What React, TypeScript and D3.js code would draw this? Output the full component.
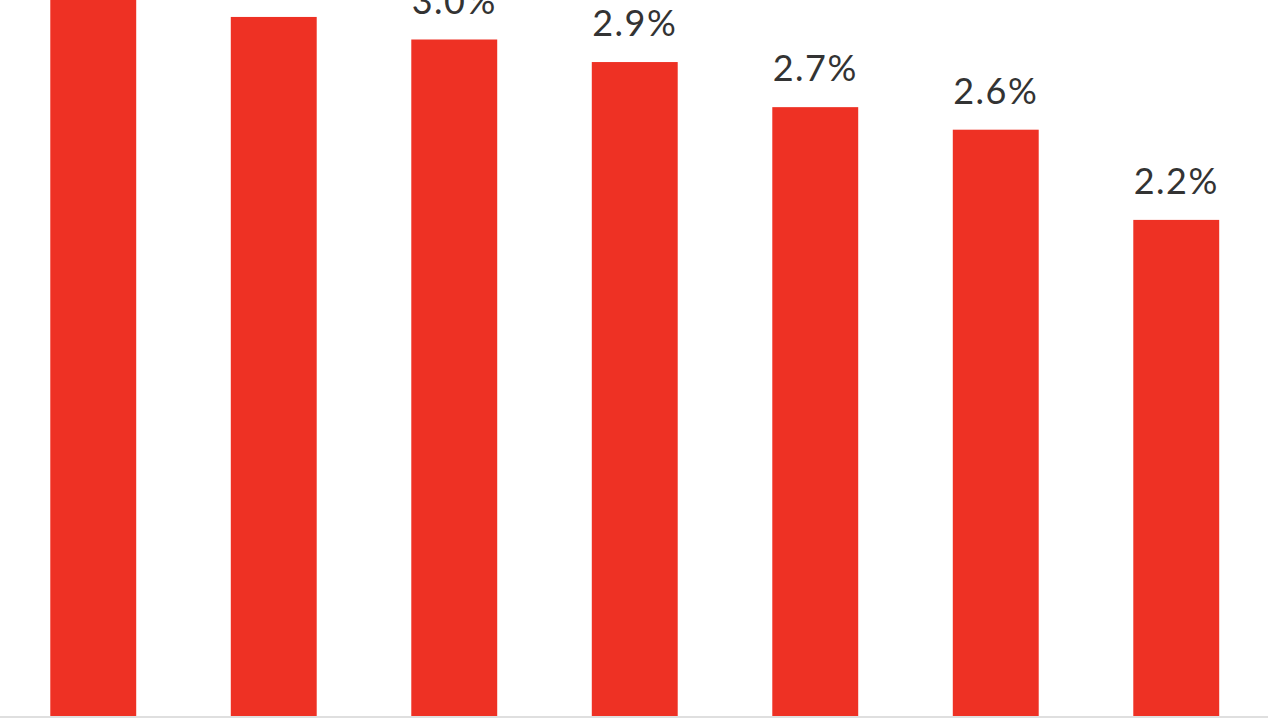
import React from "react";
import * as d3 from "d3";

const categories = ["C1", "C2", "C3", "C4", "C5", "C6", "C7"];
const values = [3.3, 3.1, 3.0, 2.9, 2.7, 2.6, 2.2];
const labels = ["3.3%", "3.1%", "3.0%", "2.9%", "2.7%", "2.6%", "2.2%"];

const W = 1280;
const H = 721;
const baseY = 716;

export default function App() {
  const x = d3
    .scaleBand<string>()
    .domain(categories)
    .range([3, 3 + 7 * 180.5])
    .paddingInner(0.524)
    .paddingOuter(0.262);
  const y = d3.scaleLinear().domain([0, 1]).range([baseY, baseY - 225.5]);

  return (
    <svg
      width={W}
      height={H}
      style={{ position: "absolute", left: 0, top: 0, background: "#fff" }}
    >
      {categories.map((c, i) => (
        <rect
          key={c}
          x={x(c)}
          y={y(values[i])}
          width={x.bandwidth()}
          height={baseY - y(values[i])}
          fill="#EE3124"
        />
      ))}
      <line x1={0} x2={1268} y1={717} y2={717} stroke="#d4d4d4" strokeWidth={1.5} />
      {categories.map((c, i) => (
        <text
          key={c + "l"}
          x={(x(c) as number) + x.bandwidth() / 2}
          y={y(values[i]) - 26}
          textAnchor="middle"
          fontFamily="'Lato', 'Noto Sans', sans-serif"
          fontSize={36}
          letterSpacing={1.5}
          fill="#333"
        >
          {labels[i]}
        </text>
      ))}
    </svg>
  );
}
